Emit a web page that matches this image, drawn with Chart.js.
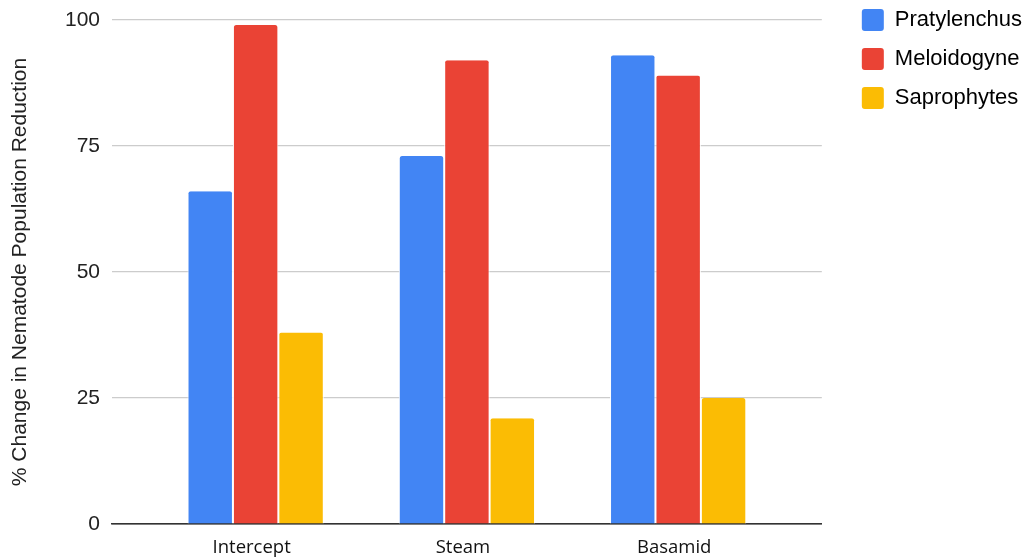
<!DOCTYPE html>
<html>
<head>
<meta charset="utf-8">
<script src="https://cdn.jsdelivr.net/npm/chart.js@4"></script>
<style>
  html, body { margin: 0; padding: 0; background: #fff; }
  #wrap { width: 1030px; height: 558px; position: relative; }
</style>
</head>
<body>
<div id="wrap"><canvas id="nematodeChart"></canvas></div>
<script>
// categories and series
const treatments = ['Intercept', 'Steam', 'Basamid'];
const pratylenchus = [66, 73, 93];
const meloidogyne = [99, 92, 89];
const saprophytes = [38, 21, 25];
const yTicks = [0, 25, 50, 75, 100];

const toPoints = vals => vals.map((v, i) => ({ x: i, y: v }));

const barStyle = {
    borderColor: '#ffffff',
    borderWidth: { left: 1, right: 1, top: 0, bottom: 0 },
    borderRadius: { topLeft: 3, topRight: 3 },
    borderSkipped: false,
    barPercentage: 1,
    categoryPercentage: 0.645
};

// move the legend up and right, leaving a gap after the plot like the original
const legendNudge = {
    id: 'legendNudge',
    afterLayout(chart) {
        const lg = chart.legend;
        lg.top -= 8; lg.bottom -= 8;
        lg.left += 23; lg.right += 23;
    }
};

const ctx = document.getElementById('nematodeChart').getContext('2d');
const nematodeChart = new Chart(ctx, {
    type: 'bar',
    data: {
        datasets: [
            { label: 'Pratylenchus', data: toPoints(pratylenchus), backgroundColor: '#4285F4', ...barStyle },
            { label: 'Meloidogyne', data: toPoints(meloidogyne), backgroundColor: '#EA4335', ...barStyle },
            { label: 'Saprophytes', data: toPoints(saprophytes), backgroundColor: '#FBBC04', ...barStyle }
        ]
    },
    plugins: [legendNudge],
    options: {
        responsive: true,
        maintainAspectRatio: false,
        animation: false,
        layout: { padding: { top: 0, right: 21, left: 8, bottom: 0 } },
        plugins: {
            tooltip: { enabled: false },
            legend: {
                position: 'right',
                align: 'start',
                labels: {
                    boxWidth: 22,
                    boxHeight: 22,
                    padding: 17,
                    color: '#222',
                    font: { family: 'Liberation Sans, Arial, sans-serif', size: 22 },
                    generateLabels: chart => chart.data.datasets.map((ds, i) => ({
                        text: ds.label,
                        fillStyle: ds.backgroundColor,
                        strokeStyle: ds.backgroundColor,
                        lineWidth: 0,
                        borderRadius: 3,
                        datasetIndex: i
                    }))
                }
            }
        },
        scales: {
            x: {
                type: 'linear',
                min: -0.68,
                max: 2.68,
                offset: false,
                grid: { display: false },
                border: { color: '#333', width: 1.5 },
                afterBuildTicks: axis => { axis.ticks = treatments.map((t, i) => ({ value: i })); },
                afterFit: axis => { axis.height = 34; },
                ticks: {
                    autoSkip: false,
                    maxRotation: 0,
                    padding: 5,
                    labelOffset: -4,
                    color: '#111',
                    font: { family: 'Open Sans, sans-serif', size: 18.5 },
                    callback: value => treatments[value]
                }
            },
            y: {
                min: 0,
                max: 100,
                afterBuildTicks: axis => { axis.ticks = yTicks.map(v => ({ value: v })); },
                afterFit: axis => { axis.width = 104; axis.paddingTop = 20; },
                border: { display: false },
                grid: {
                    color: c => c.tick.value === 0 ? '#333' : '#cccccc',
                    lineWidth: 1.2,
                    drawTicks: false
                },
                ticks: {
                    padding: 12,
                    color: '#222',
                    font: { family: 'Liberation Sans, Arial, sans-serif', size: 21 }
                },
                title: {
                    display: true,
                    text: '% Change in Nematode Population Reduction',
                    color: '#222',
                    padding: { top: 0, bottom: 14 },
                    font: { family: 'Liberation Sans, Arial, sans-serif', size: 21 }
                }
            }
        }
    }
});
</script>
</body>
</html>
